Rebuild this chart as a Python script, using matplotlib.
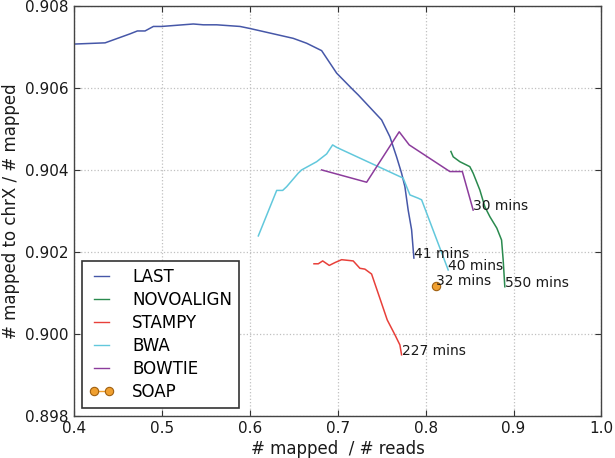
import matplotlib
matplotlib.use('Agg')
import matplotlib.pyplot as plt

# -------------------- data --------------------
last_x = [0.400, 0.4356, 0.464, 0.4723, 0.481, 0.4905, 0.500, 0.5359, 0.5473, 0.5625,
          0.589, 0.6003, 0.6495, 0.6648, 0.6818, 0.6989, 0.7177, 0.7234, 0.750, 0.7594,
          0.767, 0.7727, 0.7765, 0.7802, 0.7841, 0.7867]
last_y = [0.90707, 0.90710, 0.90732, 0.90739, 0.90739, 0.90750, 0.90750, 0.90756, 0.90754, 0.90754,
          0.90750, 0.90745, 0.90721, 0.90709, 0.90691, 0.90636, 0.90595, 0.90583, 0.90522, 0.90481,
          0.90432, 0.90392, 0.90359, 0.90302, 0.90254, 0.90185]

novo_x = [0.8288, 0.8314, 0.839, 0.8503, 0.8541, 0.8617, 0.8674, 0.8731, 0.881, 0.8864, 0.8882, 0.8901]
novo_y = [0.90445, 0.90432, 0.90420, 0.90408, 0.90392, 0.90351, 0.90310, 0.90286, 0.90258, 0.90229,
          0.90181, 0.90115]

stampy_x = [0.6731, 0.678, 0.683, 0.6905, 0.697, 0.7045, 0.7177, 0.7253, 0.731, 0.7386,
            0.748, 0.7564, 0.7651, 0.7708, 0.7727]
stampy_y = [0.90171, 0.90171, 0.90178, 0.90167, 0.90174, 0.90181, 0.90178, 0.90160, 0.90158, 0.90146,
            0.90087, 0.90034, 0.89998, 0.89973, 0.89949]

bwa_x = [0.6098, 0.6307, 0.6375, 0.642, 0.6552, 0.6591, 0.6761, 0.6875, 0.6943, 0.6989,
         0.7745, 0.7822, 0.7916, 0.7955, 0.8257]
bwa_y = [0.90239, 0.90350, 0.90350, 0.90359, 0.90392, 0.90400, 0.90420, 0.90439, 0.90461, 0.90455,
         0.90380, 0.90339, 0.90331, 0.90327, 0.90156]

bowtie_x = [0.6818, 0.733, 0.770, 0.7814, 0.8276, 0.8418, 0.8541]
bowtie_y = [0.90400, 0.90370, 0.90493, 0.90461, 0.90396, 0.90396, 0.90302]

soap_x = [0.8114]
soap_y = [0.90118]

names = ['LAST', 'NOVOALIGN', 'STAMPY', 'BWA', 'BOWTIE']
times = ['41 mins', '550 mins', '227 mins', '40 mins', '30 mins']
soap_time = '32 mins'

colors = ['#4657a8', '#2a8a4e', '#e8403a', '#62c8dc', '#8c3c9c']

# -------------------- plot --------------------
plt.rcParams['font.family'] = ['DejaVu Sans']

fig = plt.figure(figsize=(6.15, 4.58), dpi=100)
ax = fig.add_axes([0.12, 0.092, 0.858, 0.895])

series = [(last_x, last_y), (novo_x, novo_y), (stampy_x, stampy_y),
          (bwa_x, bwa_y), (bowtie_x, bowtie_y)]
for (xs, ys), name, t, c in zip(series, names, times, colors):
    ax.plot(xs, ys, color=c, linewidth=1.1, label=name)
    ax.annotate(t, (xs[-1], ys[-1]), xytext=(0, 3), textcoords='offset points',
                ha='left', va='center', fontsize=10, color='#1a1a1a')

ax.plot(soap_x, soap_y, color='#f0a030', marker='o', markersize=6,
        markeredgecolor='#a06010', markeredgewidth=0.8, linewidth=1.0, label='SOAP')
ax.annotate(soap_time, (soap_x[0], soap_y[0]), xytext=(0, 3), textcoords='offset points',
            ha='left', va='center', fontsize=10, color='#1a1a1a')

ax.set_xlim(0.4, 1.0)
ax.set_ylim(0.898, 0.908)
ax.set_xticks([0.4, 0.5, 0.6, 0.7, 0.8, 0.9, 1.0])
ax.set_xticklabels(['0.4', '0.5', '0.6', '0.7', '0.8', '0.9', '1.0'])
ax.set_yticks([0.898, 0.900, 0.902, 0.904, 0.906, 0.908])
ax.set_yticklabels(['0.898', '0.900', '0.902', '0.904', '0.906', '0.908'])

ax.grid(True, linestyle=':', color='#c0c0c0', linewidth=0.9)
ax.tick_params(direction='in', top=True, right=True, labelsize=11,
               colors='#333333', labelcolor='#1a1a1a', length=4)
for sp in ax.spines.values():
    sp.set_color('#444444')
    sp.set_linewidth(1.0)

ax.set_xlabel('# mapped  / # reads', fontsize=12, color='#1a1a1a', labelpad=3)
ax.set_ylabel('# mapped to chrX / # mapped', fontsize=12, color='#1a1a1a', labelpad=4)

leg = ax.legend(loc='lower left', fontsize=12, numpoints=2, handlelength=1.5,
                handletextpad=1.1, fancybox=False, borderaxespad=0.5,
                labelspacing=0.3, borderpad=0.4)
leg.get_frame().set_edgecolor('#333333')
leg.get_frame().set_linewidth(1.2)
leg.get_frame().set_alpha(1.0)
for line in leg.get_lines():
    line.set_linewidth(1.0)

fig.savefig('out.png', dpi=100)
